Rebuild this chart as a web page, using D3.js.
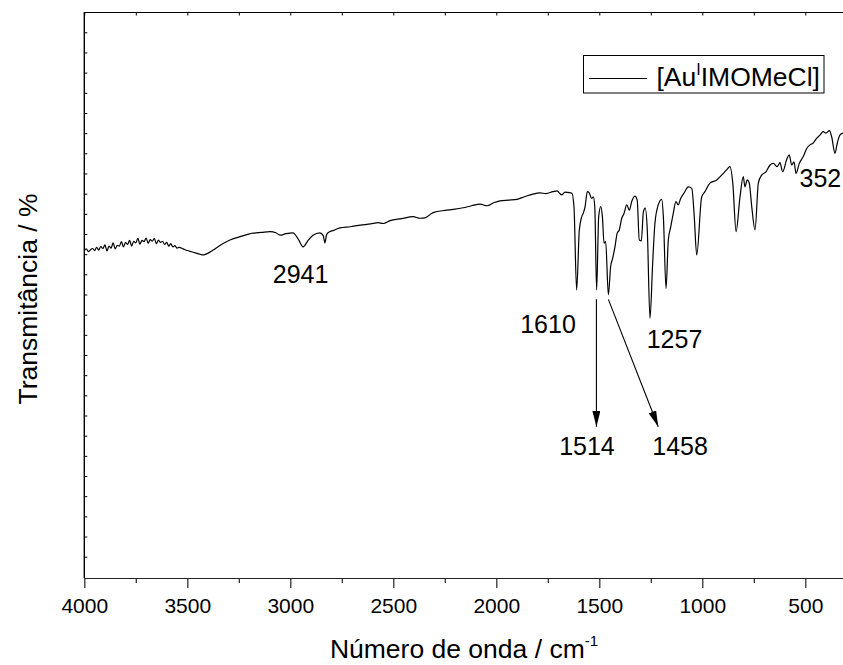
<!DOCTYPE html>
<html>
<head>
<meta charset="utf-8">
<script src="https://cdn.jsdelivr.net/npm/d3@7"></script>
<style>
  html, body { margin: 0; padding: 0; background: #fff; overflow: hidden; }
  svg { display: block; font-family: "Liberation Sans", Arial, sans-serif; }
</style>
</head>
<body>
<svg id="chart" width="843" height="665"></svg>
<script>
// ---------- data ----------
const wavenumbers = [
  4000,3990,3980,3970,3960,3950,3940,3930,3920,3910,3900,3890,3880,3870,3860,3850,3840,3830,3820,3810,
  3800,3790,3780,3770,3760,3750,3740,3730,3720,3710,3700,3690,3680,3670,3660,3650,3640,3630,3620,3610,
  3600,3590,3580,3570,3560,3550,3540,3520,3500,3480,3460,3440,3424,3410,3390,3375,3340,3293,3240,3181,
  3140,3098,3070,3050,3020,2987,2960,2938,2915,2890,2856,2840,2832,2824,2817,2790,2759,2710,2659,2610,
  2574,2549,2516,2460,2404,2370,2346,2307,2240,2161,2120,2079,2045,2010,1982,1940,1899,1860,1822,1788,
  1759,1725,1705,1695,1681,1667,1652,1633,1623,1610,1597,1585,1578,1569,1558,1549,1537,1529,1522,1513,
  1503,1493,1485,1477,1469,1456,1445,1435,1424,1413,1403,1391,1380,1367,1354,1343,1327,1316,1306,1296,
  1286,1277,1267,1254,1241,1230,1214,1197,1189,1176,1165,1153,1141,1128,1117,1105,1089,1068,1051,1040,
  1027,1003,987,963,930,906,882,866,852,836,817,801,793,782,772,760,744,728,712,691,
  671,655,636,623,610,590,578,566,555,545,529,510,493,477,461,445,429,413,400,383,
  372,356,345,332,316,300
];
const transmittance = [
  75.9,76.3,75.6,76.1,76.4,75.9,76.7,76.0,76.9,76.4,77.3,75.8,77.0,76.5,77.8,76.3,77.2,77.0,78.1,76.8,
  77.9,77.4,78.4,77.0,78.2,77.8,78.9,77.5,78.4,78.1,79.0,77.7,78.6,78.2,78.9,77.6,78.5,77.9,78.2,77.4,
  77.9,77.0,77.6,76.8,77.1,76.5,76.7,76.3,75.9,75.6,75.3,75.0,74.8,75.0,75.5,76.0,77.2,78.5,79.4,80.2,
  80.4,80.6,80.3,79.7,80.1,80.3,78.6,76.8,78.3,79.7,80.3,79.6,77.8,79.8,80.3,80.9,81.5,81.8,82.2,82.5,
  82.8,82.6,83.3,83.8,84.3,83.9,84.0,85.3,85.9,86.5,87.0,87.4,87.0,87.8,88.2,88.4,88.6,89.3,89.9,90.2,
  90.0,90.5,90.7,90.2,89.7,90.4,90.3,90.1,86.8,66.1,81.0,84.3,85.1,86.8,90.5,90.2,88.8,89.2,86.8,66.1,
  84.3,86.8,84.3,77.7,78.1,64.9,71.9,74.0,76.8,80.2,81.0,83.9,85.1,87.2,85.9,88.0,89.4,88.4,78.5,78.3,
  85.5,86.4,81.0,59.1,72.7,82.6,87.2,88.6,84.3,66.5,78.5,81.8,85.1,88.0,87.2,88.8,90.1,91.7,91.3,85.1,
  74.8,89.2,90.5,92.6,93.4,94.6,95.9,96.7,92.6,80.6,89.2,94.2,91.7,93.4,92.6,86.8,81.0,92.6,94.6,95.4,
  97.1,97.5,96.7,97.7,95.4,98.5,99.6,97.1,97.9,95.0,97.5,99.2,101.2,102.1,102.6,103.7,104.5,105.4,105.0,105.6,
  104.1,100.0,102.5,104.5,105.0,104.8
];
const xMajorTicks = [4000, 3500, 3000, 2500, 2000, 1500, 1000, 500];
const xMinorTicks = [3750, 3250, 2750, 2250, 1750, 1250, 750, 250];
const yTicks = d3.range(0, 131, 5);

const seriesName = "[Au", seriesSup = "I", seriesRest = "IMOMeCl]";
const peakLabels = [
  { text: "2941", w: 2950, v: 67.8, anchor: "middle" },
  { text: "1610", w: 1614, v: 55.4, anchor: "end" },
  { text: "1257", w: 1135, v: 51.7, anchor: "middle" },
  { text: "1514", w: 1560, v: 25.2, anchor: "middle" },
  { text: "1458", w: 1108, v: 25.2, anchor: "middle" },
  { text: "352",  w: 528,  v: 91.6, anchor: "start" }
];
const arrows = [
  { w1: 1514, v1: 63.8, w2: 1514, v2: 32.2 },
  { w1: 1456, v1: 63.8, w2: 1214, v2: 32.2 }
];

// ---------- layout ----------
const svg = d3.select("#chart");
const pLeft = 84.3, pTop = 12, pBottom = 578;
const x = d3.scaleLinear().domain([4000, 300]).range([pLeft, pLeft + 3700 * 0.206]);
const y = d3.scaleLinear().domain([-5.28, 135.03]).range([pBottom, pTop]);
const pRight = x.range()[1];

const data = wavenumbers.map((w, i) => ({ w, v: transmittance[i] }));

// frame: top line
svg.append("line").attr("x1", pLeft).attr("x2", pRight).attr("y1", pTop + 0.5).attr("y2", pTop + 0.5)
  .attr("stroke", "#000").attr("stroke-width", 1.2);

// top ticks (inward)
const topAxis = svg.append("g").attr("transform", `translate(0,${pTop + 0.5})`)
  .call(d3.axisTop(x).tickValues(xMajorTicks.concat(xMinorTicks)).tickSize(-3).tickFormat(""));
topAxis.select(".domain").remove();
topAxis.selectAll("line").attr("stroke", "#000");

// left axis with inward minor ticks, no labels
const leftAxis = svg.append("g").attr("transform", `translate(${pLeft},0)`)
  .call(d3.axisLeft(y).tickValues(yTicks).tickSize(-3).tickSizeOuter(0).tickFormat(""));
leftAxis.select(".domain").attr("stroke", "#000").attr("stroke-width", 1.4)
  .attr("d", `M0,${pTop}V${pBottom}`);
leftAxis.selectAll(".tick line").attr("stroke", "#000");

// bottom axis
const bAxis = svg.append("g").attr("transform", `translate(0,${pBottom})`)
  .call(d3.axisBottom(x).tickValues(xMajorTicks).tickSize(10).tickSizeOuter(0).tickPadding(10)
    .tickFormat(d3.format("d")));
bAxis.select(".domain").attr("stroke", "#222").attr("stroke-width", 1.2);
bAxis.selectAll(".tick line").attr("stroke", "#222").attr("stroke-width", 1.2);
bAxis.selectAll(".tick text").attr("font-size", 21).attr("fill", "#000")
  .attr("font-family", "Liberation Sans, Arial, sans-serif");
const bMinor = svg.append("g").attr("transform", `translate(0,${pBottom})`)
  .call(d3.axisBottom(x).tickValues(xMinorTicks).tickSize(5).tickFormat(""));
bMinor.select(".domain").remove();
bMinor.selectAll("line").attr("stroke", "#222").attr("stroke-width", 1.2);

// spectrum
svg.append("path").datum(data)
  .attr("fill", "none").attr("stroke", "#000").attr("stroke-width", 1.2)
  .attr("stroke-linejoin", "round")
  .attr("d", d3.line().x(d => x(d.w)).y(d => y(d.v)).curve(d3.curveMonotoneX));

// arrows
svg.append("defs").append("marker")
  .attr("id", "ah").attr("viewBox", "0 0 16 8").attr("refX", 16).attr("refY", 4)
  .attr("markerWidth", 16).attr("markerHeight", 8).attr("markerUnits", "userSpaceOnUse")
  .attr("orient", "auto")
  .append("path").attr("d", "M0,0L16,4L0,8Z").attr("fill", "#000");
svg.selectAll(".arrow").data(arrows).enter().append("line")
  .attr("x1", d => x(d.w1)).attr("y1", d => y(d.v1))
  .attr("x2", d => x(d.w2)).attr("y2", d => y(d.v2))
  .attr("stroke", "#000").attr("stroke-width", 1.1).attr("marker-end", "url(#ah)");

// peak labels
svg.selectAll(".plabel").data(peakLabels).enter().append("text")
  .attr("x", d => x(d.w)).attr("y", d => y(d.v))
  .attr("text-anchor", d => d.anchor).attr("font-size", 25).attr("fill", "#000")
  .text(d => d.text);

// legend
svg.append("rect").attr("x", 583.5).attr("y", 55.5).attr("width", 240.5).attr("height", 37.5)
  .attr("fill", "#fff").attr("stroke", "#000").attr("stroke-width", 1);
svg.append("line").attr("x1", 589).attr("x2", 647).attr("y1", 78.5).attr("y2", 78.5)
  .attr("stroke", "#000").attr("stroke-width", 1.2);
const lt = svg.append("text").attr("x", 656.5).attr("y", 86).attr("font-size", 26.5).attr("fill", "#000");
lt.append("tspan").text(seriesName);
lt.append("tspan").attr("font-size", 16).attr("dy", -11).text(seriesSup);
lt.append("tspan").attr("dy", 11).text(seriesRest);

// axis titles
const xt = svg.append("text").attr("x", 464).attr("y", 658).attr("text-anchor", "middle")
  .attr("font-size", 26.5).attr("fill", "#000");
xt.append("tspan").text("Número de onda / cm");
xt.append("tspan").attr("font-size", 15).attr("dy", -12).text("-1");

svg.append("text").attr("transform", "translate(37,299) rotate(-90)")
  .attr("text-anchor", "middle").attr("font-size", 26.5).attr("fill", "#000")
  .text("Transmitância / %");
</script>
</body>
</html>
